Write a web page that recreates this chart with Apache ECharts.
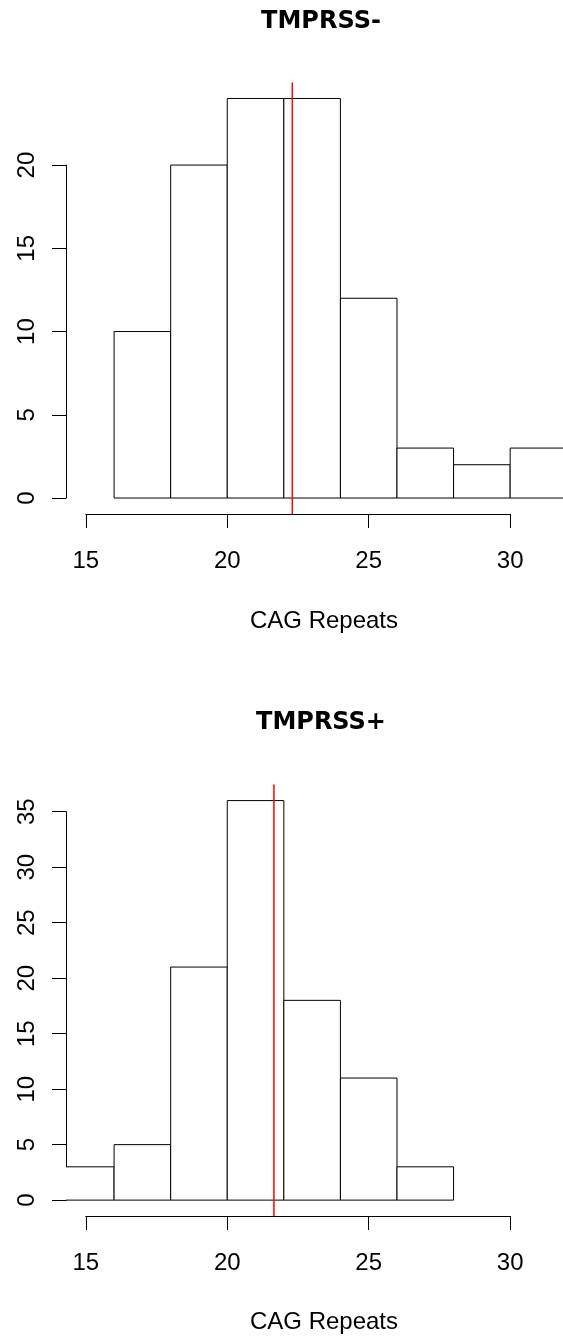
<!DOCTYPE html>
<html>
<head>
<meta charset="utf-8">
<script src="https://cdn.jsdelivr.net/npm/echarts@6/dist/echarts.min.js"></script>
<style>
  html, body { margin: 0; padding: 0; background: #ffffff; }
  #main { width: 563px; height: 1339px; }
</style>
</head>
<body>
<div id="main"></div>
<script>
// histogram data
var binsNeg = [16, 18, 20, 22, 24, 26, 28, 30, 32];
var countsNeg = [10, 20, 24, 24, 12, 3, 2, 3];
var meanNeg = 22.3;

var binsPos = [14, 16, 18, 20, 22, 24, 26, 28];
var countsPos = [3, 5, 21, 36, 18, 11, 3];
var meanPos = 21.65;

var xTicks = [15, 20, 25, 30];
var yTicksNeg = [0, 5, 10, 15, 20];
var yTicksPos = [0, 5, 10, 15, 20, 25, 30, 35];

var titles = ['TMPRSS-', 'TMPRSS+'];
var xName = 'CAG Repeats';

// layout (pixels); plot region runs off the right edge of the picture
var plotLeft = 66;
var plotW = 497;
var pxPerX = 28.29;
var xLim = [14.3, 14.3 + plotW / pxPerX];
var plotH = 431.5;
var panels = [
  { title: titles[0], bins: binsNeg, counts: countsNeg, mean: meanNeg, yTicks: yTicksNeg, top: 82.5, titleY: 22, nameY: 621 },
  { title: titles[1], bins: binsPos, counts: countsPos, mean: meanPos, yTicks: yTicksPos, top: 784.6, titleY: 723, nameY: 1322 }
];

var font = '"Liberation Sans", Arial, sans-serif';
var grid = [], xAxis = [], yAxis = [], series = [], graphic = [];

panels.forEach(function (p, i) {
  var ymax = Math.max.apply(null, p.counts);
  var yLo = -0.04 * ymax, yHi = 1.04 * ymax;
  var yPx = function (v) { return p.top + (yHi - v) / (yHi - yLo) * plotH; };
  var xPx = function (v) { return plotLeft + (v - xLim[0]) * pxPerX; };
  var g = grid.length;

  // plot region (bars + mean line), axes hidden
  grid.push({ left: plotLeft, top: p.top, width: plotW, height: plotH });
  xAxis.push({ gridIndex: g, type: 'value', min: xLim[0], max: xLim[1], show: false });
  yAxis.push({ gridIndex: g, type: 'value', min: yLo, max: yHi, show: false });

  // x axis only over its tick range, at the bottom of the plot region
  var xt0 = xTicks[0], xt1 = xTicks[xTicks.length - 1];
  grid.push({ left: xPx(xt0), top: p.top + plotH - 1, width: xPx(xt1) - xPx(xt0), height: 1 });
  xAxis.push({
    gridIndex: g + 1, type: 'value', min: xt0, max: xt1, interval: xTicks[1] - xTicks[0],
    position: 'bottom',
    axisLine: { onZero: false, lineStyle: { color: '#000', width: 1 } },
    axisTick: { length: 14, lineStyle: { color: '#000', width: 1 } },
    axisLabel: { margin: 35, fontSize: 24, color: '#000', fontFamily: font },
    splitLine: { show: false }
  });
  yAxis.push({ gridIndex: g + 1, type: 'value', min: 0, max: 1, show: false });

  // y axis only over its tick range
  var yt1 = p.yTicks[p.yTicks.length - 1];
  grid.push({ left: plotLeft, top: yPx(yt1), width: 1, height: yPx(0) - yPx(yt1) });
  xAxis.push({ gridIndex: g + 2, type: 'value', min: 0, max: 1, show: false });
  yAxis.push({
    gridIndex: g + 2, type: 'value', min: 0, max: yt1, interval: p.yTicks[1] - p.yTicks[0],
    position: 'left',
    axisLine: { show: true, onZero: false, lineStyle: { color: '#000', width: 1 } },
    axisTick: { show: true, length: 14, lineStyle: { color: '#000', width: 1 } },
    axisLabel: { rotate: 90, margin: 27, fontSize: 24, color: '#000', fontFamily: font },
    splitLine: { show: false }
  });

  var data = p.counts.map(function (c, k) { return [p.bins[k], p.bins[k + 1], c]; });
  series.push({
    type: 'custom',
    xAxisIndex: g, yAxisIndex: g,
    clip: true,
    silent: true,
    data: data,
    encode: { x: [0, 1], y: 2 },
    renderItem: function (params, api) {
      var a = api.coord([api.value(0), 0]);
      var b = api.coord([api.value(1), api.value(2)]);
      return {
        type: 'rect',
        shape: { x: a[0], y: b[1], width: b[0] - a[0], height: a[1] - b[1] },
        style: { fill: '#ffffff', stroke: '#000000', lineWidth: 1 }
      };
    }
  });
  series.push({
    type: 'line',
    xAxisIndex: g, yAxisIndex: g,
    data: [[p.mean, yLo], [p.mean, yHi]],
    symbol: 'none',
    silent: true,
    z: 5,
    lineStyle: { color: '#ff0000', width: 1.5 }
  });

  graphic.push({
    type: 'text', silent: true, x: 321, y: p.titleY,
    style: { text: p.title, fill: '#000', font: 'bold 24px "DejaVu Sans", sans-serif', align: 'center', verticalAlign: 'middle' }
  });
  graphic.push({
    type: 'text', silent: true, x: 324, y: p.nameY,
    style: { text: xName, fill: '#000', font: '24px ' + font, align: 'center', verticalAlign: 'middle' }
  });
});

var chart = echarts.init(document.getElementById('main'));
chart.setOption({
  backgroundColor: '#ffffff',
  animation: false,
  grid: grid,
  xAxis: xAxis,
  yAxis: yAxis,
  series: series,
  graphic: graphic
});
</script>
</body>
</html>
